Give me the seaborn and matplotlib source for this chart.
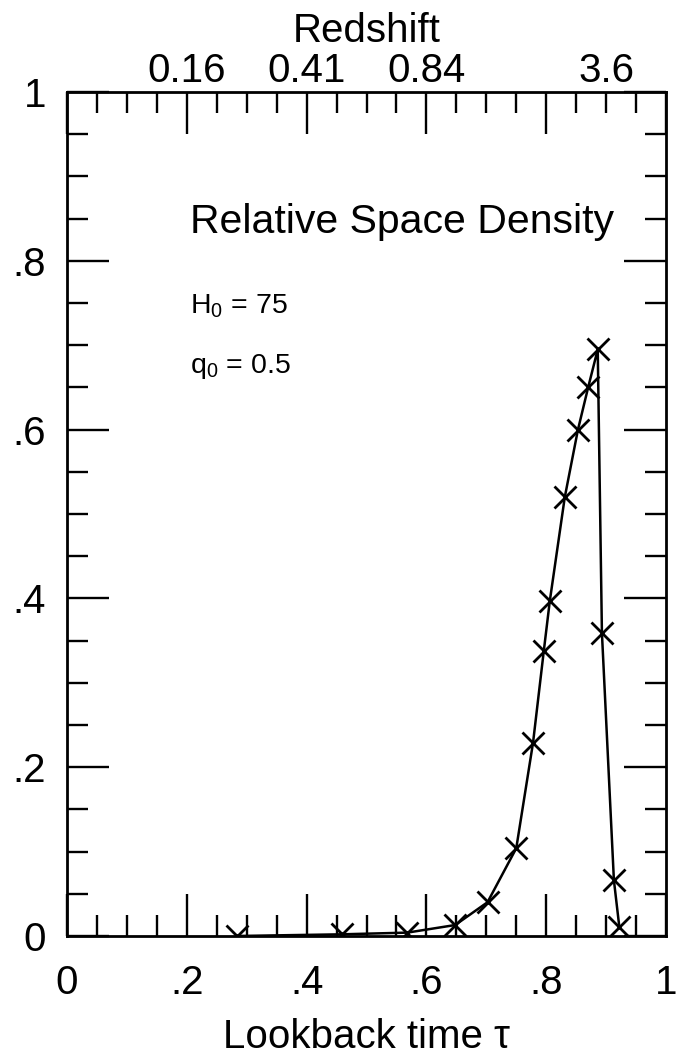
import numpy as np
import pandas as pd
import matplotlib
matplotlib.use("Agg")
import matplotlib.pyplot as plt
import seaborn as sns
from matplotlib.ticker import MultipleLocator, FixedLocator

# Lookback time (fraction of Hubble time) and relative space density
tau = [0.283, 0.459, 0.568, 0.648, 0.702, 0.750, 0.778, 0.796, 0.806,
       0.831, 0.853, 0.870, 0.886, 0.893, 0.913, 0.922]
density = [0.0, 0.002, 0.004, 0.013, 0.040, 0.104, 0.229, 0.338, 0.397,
           0.520, 0.600, 0.650, 0.695, 0.359, 0.066, 0.011]

# Axis labelling
x_ticks = [0, 0.2, 0.4, 0.6, 0.8, 1.0]
x_ticklabels = ["0", ".2", ".4", ".6", ".8", "1"]
y_ticks = [0, 0.2, 0.4, 0.6, 0.8, 1.0]
y_ticklabels = ["0", ".2", ".4", ".6", ".8", "1"]
z_ticks = [0.2, 0.4, 0.6, 0.9]
z_ticklabels = ["0.16", "0.41", "0.84", "3.6"]

sns.set_style("white")
plt.rcParams["font.family"] = ["Liberation Sans", "DejaVu Sans"]
plt.rcParams["mathtext.fontset"] = "custom"
plt.rcParams["mathtext.rm"] = "Liberation Sans"
plt.rcParams["mathtext.default"] = "regular"
plt.rcParams["text.color"] = "black"
plt.rcParams["axes.labelcolor"] = "black"
plt.rcParams["xtick.color"] = "black"
plt.rcParams["ytick.color"] = "black"

df = pd.DataFrame({"tau": tau, "density": density})

fig = plt.figure(figsize=(6.81, 10.64), dpi=100)
ax = fig.add_axes([0.0984, 0.1203, 0.8796, 0.7932])

sns.lineplot(data=df, x="tau", y="density", ax=ax, color="black",
             linewidth=1.8, marker="x", markersize=16, markeredgewidth=2.0,
             markeredgecolor="black", sort=False, estimator=None)

ax.set_xlim(0, 1)
ax.set_ylim(0, 1)

# Redshift scale along the top edge
ax2 = ax.twiny()
ax2.set_xlim(0, 1)
ax2.set_xticks(z_ticks)
ax2.set_xticklabels(z_ticklabels)
ax2.tick_params(axis="x", length=0, pad=1.5, labelsize=29, labelcolor="black")
ax2.set_xlabel("Redshift", fontsize=29, labelpad=7, color="black")
for s in ax2.spines.values():
    s.set_visible(False)

for s in ax.spines.values():
    s.set_linewidth(2.0)
    s.set_color("black")

ax.xaxis.set_major_locator(FixedLocator(x_ticks))
ax.yaxis.set_major_locator(FixedLocator(y_ticks))
ax.xaxis.set_minor_locator(MultipleLocator(0.05))
ax.yaxis.set_minor_locator(MultipleLocator(0.05))
ax.set_xticklabels(x_ticklabels)
ax.set_yticklabels(y_ticklabels)

ax.tick_params(which="both", direction="in", top=True, right=True,
               bottom=True, left=True, labeltop=False, labelright=False,
               width=1.7, color="black", labelsize=29, labelcolor="black")
ax.tick_params(which="major", length=30)
ax.tick_params(which="minor", length=15)
ax.tick_params(axis="x", which="major", pad=20)
ax.tick_params(axis="y", which="major", pad=15)

ax.set_xlabel("Lookback time \u03c4", fontsize=29, labelpad=12)
ax.set_ylabel("")

ax.text(0.205, 0.833, "Relative Space Density", fontsize=29.5,
        ha="left", va="baseline")
ax.text(0.205, 0.738, r"H$_0$ = 75", fontsize=20.5, ha="left", va="baseline")
ax.text(0.205, 0.667, r"q$_0$ = 0.5", fontsize=20.5, ha="left", va="baseline")

fig.savefig("out.png", dpi=100, facecolor="white")
